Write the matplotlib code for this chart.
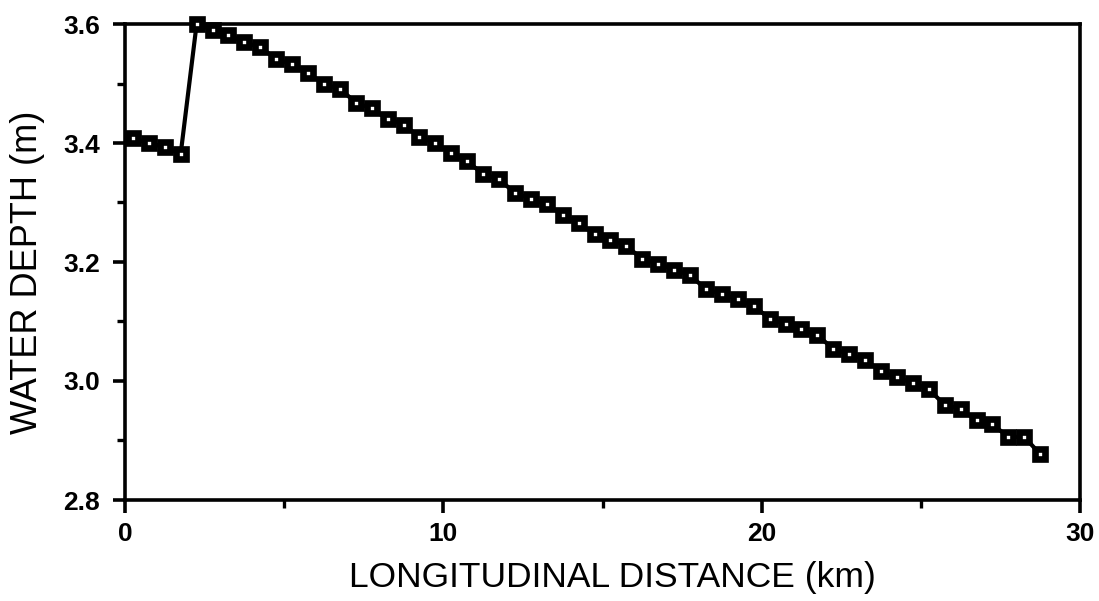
import matplotlib
matplotlib.use("Agg")
import matplotlib.pyplot as plt
from matplotlib.ticker import MultipleLocator

distance_km = [0.25, 0.75, 1.25, 1.75, 2.25, 2.75, 3.25, 3.75, 4.25, 4.75,
               5.25, 5.75, 6.25, 6.75, 7.25, 7.75, 8.25, 8.75, 9.25, 9.75,
               10.25, 10.75, 11.25, 11.75, 12.25, 12.75, 13.25, 13.75, 14.25, 14.75,
               15.25, 15.75, 16.25, 16.75, 17.25, 17.75, 18.25, 18.75, 19.25, 19.75,
               20.25, 20.75, 21.25, 21.75, 22.25, 22.75, 23.25, 23.75, 24.25, 24.75,
               25.25, 25.75, 26.25, 26.75, 27.25, 27.75, 28.25, 28.75]
water_depth_m = [3.408, 3.400, 3.393, 3.382, 3.600, 3.590, 3.582, 3.569, 3.561, 3.541,
                 3.532, 3.518, 3.499, 3.491, 3.468, 3.458, 3.440, 3.431, 3.410, 3.400,
                 3.383, 3.369, 3.348, 3.339, 3.316, 3.306, 3.297, 3.279, 3.265, 3.247,
                 3.237, 3.227, 3.205, 3.197, 3.187, 3.178, 3.154, 3.146, 3.137, 3.126,
                 3.105, 3.095, 3.087, 3.077, 3.054, 3.045, 3.036, 3.016, 3.006, 2.997,
                 2.986, 2.960, 2.953, 2.934, 2.927, 2.906, 2.906, 2.877]
x_ticks = [0, 10, 20, 30]
y_ticks = [2.8, 3.0, 3.2, 3.4, 3.6]
x_label = "LONGITUDINAL DISTANCE (km)"
y_label = "WATER DEPTH (m)"

plt.rcParams['font.family'] = ['Liberation Sans', 'DejaVu Sans']

W, H = 1099, 601
fig = plt.figure(figsize=(W / 100, H / 100), dpi=100)
L, R, T, B = 125, 1080, 24, 500
ax = fig.add_axes([L / W, 1 - B / H, (R - L) / W, (B - T) / H])

ax.plot(distance_km, water_depth_m, color="black", lw=3.0, marker="s",
        ms=7, mew=4.8, mfc="white", mec="black", clip_on=False, zorder=3)

ax.set_xlim(0, 30)
ax.set_ylim(2.8, 3.6)
ax.set_xticks(x_ticks, labels=[str(v) for v in x_ticks],
              fontsize=19, fontweight="bold")
ax.set_yticks(y_ticks, labels=[f"{v:.1f}" for v in y_ticks],
              fontsize=19, fontweight="bold")
ax.xaxis.set_minor_locator(MultipleLocator(5))
ax.yaxis.set_minor_locator(MultipleLocator(0.1))

for s in ax.spines.values():
    s.set_linewidth(2.6)
ax.tick_params(which="major", direction="out", length=9, width=2.6,
               top=False, right=False)
ax.tick_params(axis="x", which="major", pad=7)
ax.tick_params(axis="y", which="major", pad=9)
ax.tick_params(which="minor", direction="out", length=6, width=2.4,
               top=False, right=False)

fig.text(612 / W, 1 - 578 / H, x_label, ha="center", va="center",
         fontsize=25.5)
fig.text(28 / W, 1 - 272 / H, y_label, ha="center", va="center", rotation=90,
         fontsize=26)

fig.savefig("out.png", dpi=100, facecolor="white")
